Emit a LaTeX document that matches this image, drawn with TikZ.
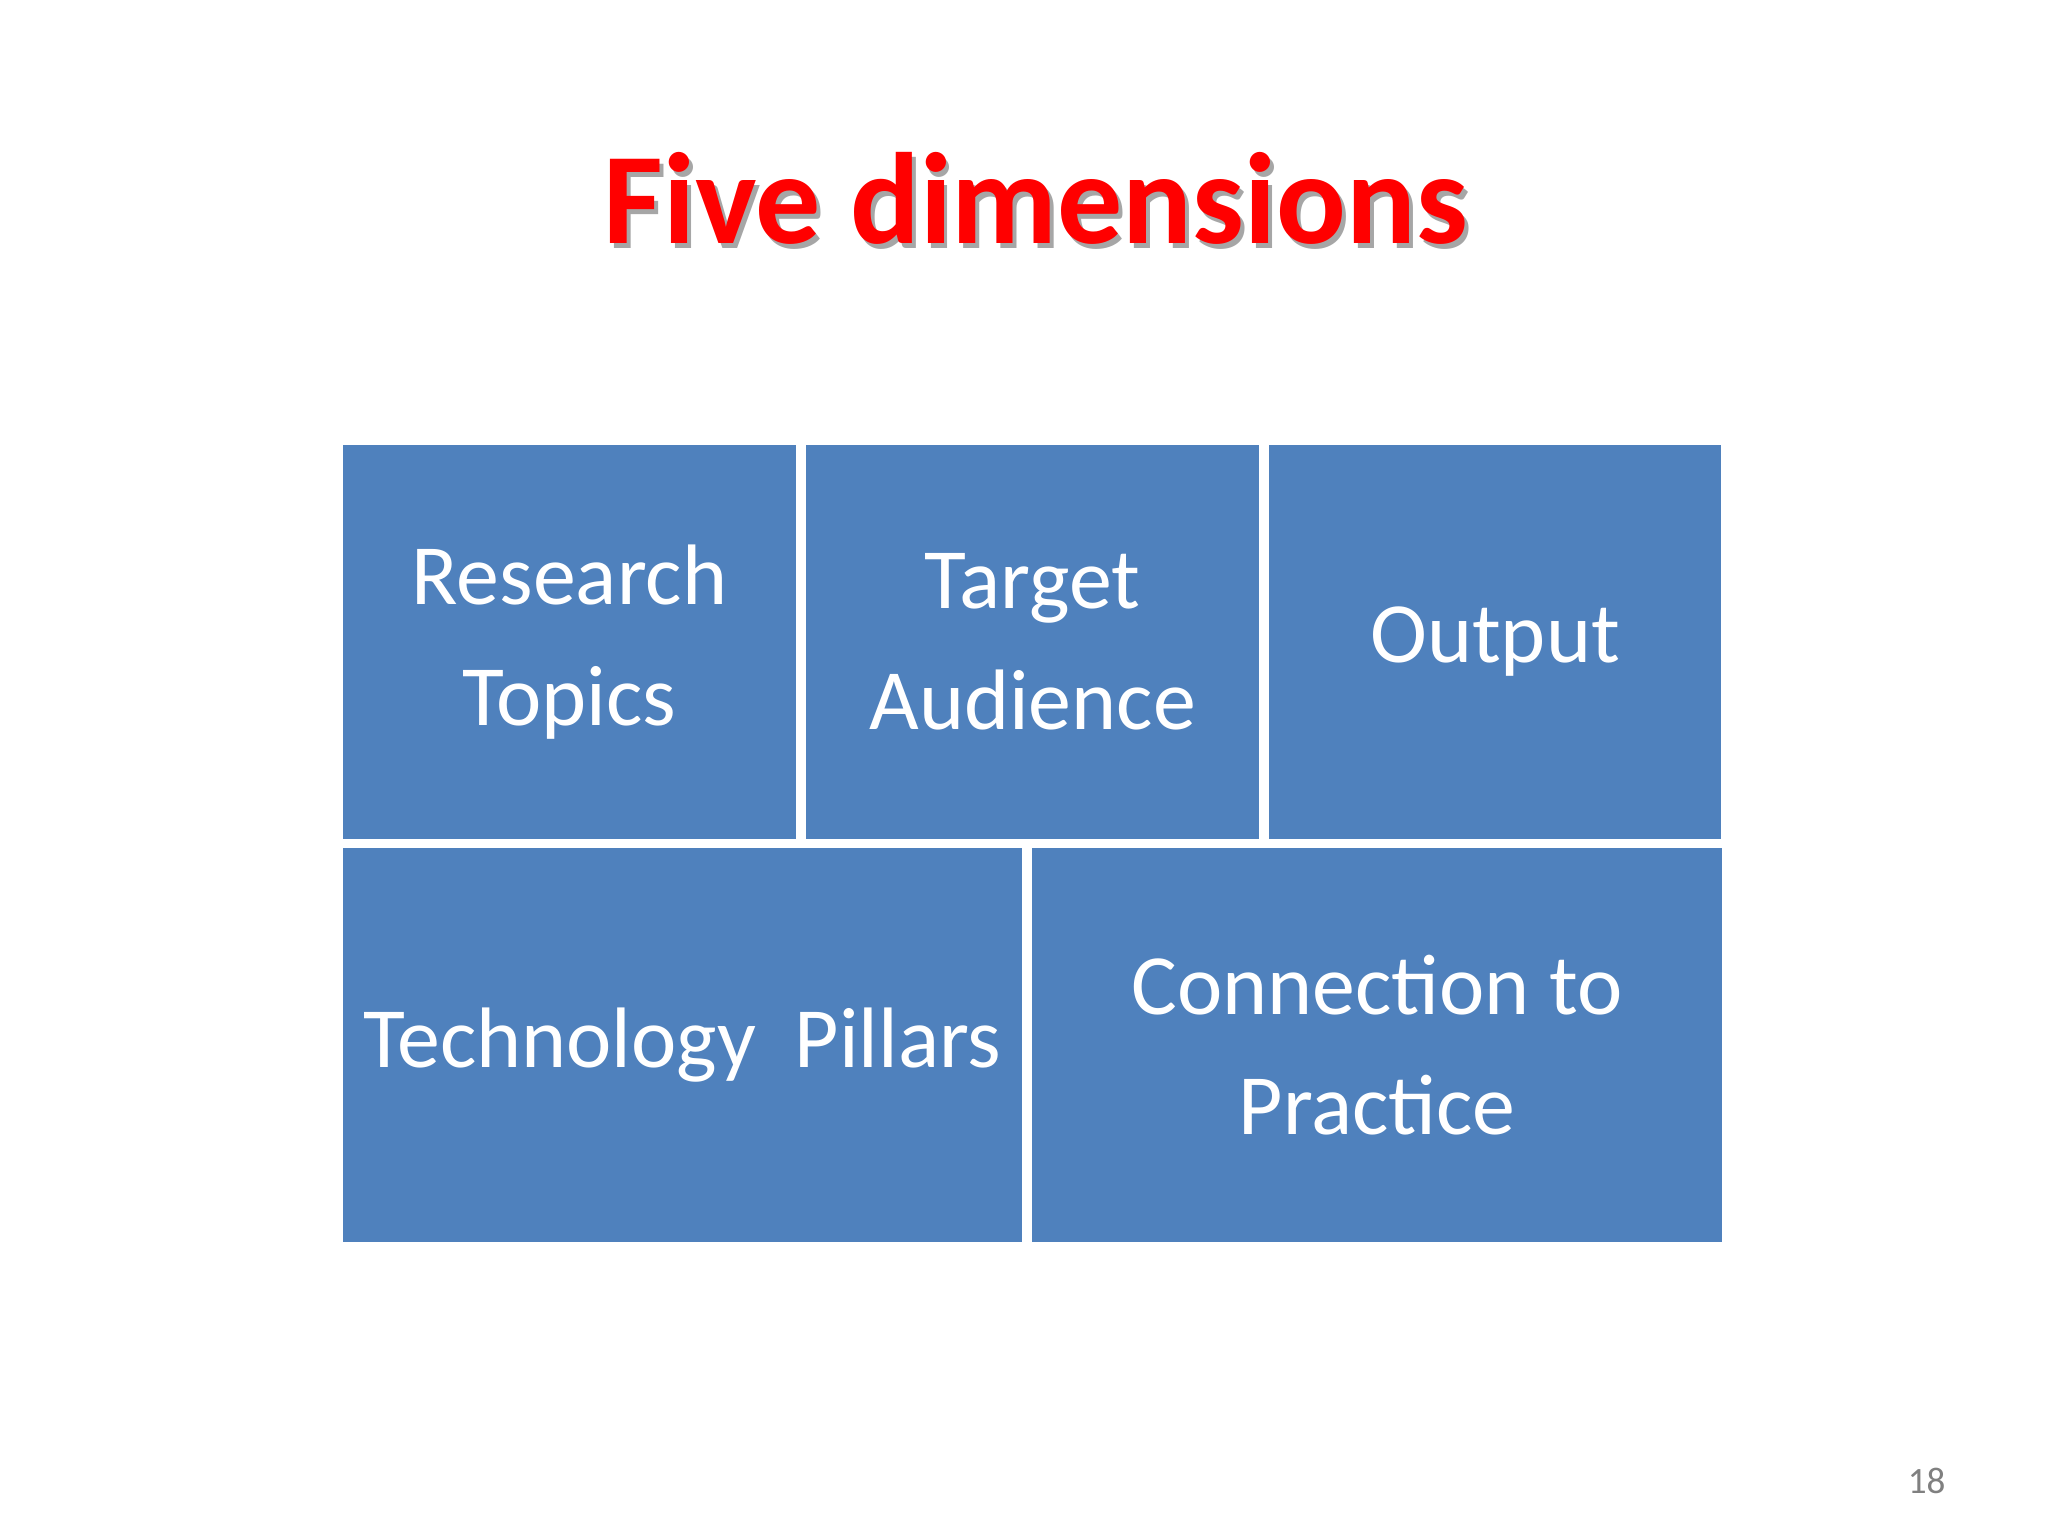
\documentclass[tikz,border=0pt]{standalone}
\usepackage{fontspec}
\setmainfont{Carlito}
\definecolor{boxblue}{HTML}{4F81BD}
\begin{document}
\begin{tikzpicture}[x=0.01cm,y=-0.01cm,
  dim/.style={fill=boxblue,draw=none,text=white,font=\fontsize{18.5}{22}\selectfont,align=center,inner sep=0pt}]
\useasboundingbox (0,0) rectangle (1552,1164);
\fill[white] (0,0) rectangle (1552,1164);
\node[text=black!35,font=\bfseries\fontsize{28}{32}\selectfont] at (788,154) {Five dimensions};
\node (title) [text=red,font=\bfseries\fontsize{28}{32}\selectfont] at (785,150) {Five dimensions};
\node (rt) [dim,minimum width=343\pgflinewidth*0+9.723cm*0+3.43cm,minimum height=2.99cm] at (431.5,486.5) {Research\\[4pt]Topics};
\node (ta) [dim,minimum width=3.43cm,minimum height=2.99cm] at (782.5,486.5) {Target\\[4pt]Audience};
\node (op) [dim,minimum width=3.42cm,minimum height=2.99cm] at (1133,486.5) {Output};
\node (tp) [dim,minimum width=5.14cm,minimum height=2.98cm] at (517,792) {Technology\ \ Pillars};
\node (cp) [dim,minimum width=5.23cm,minimum height=2.98cm] at (1043.5,792) {Connection to\\[4pt]Practice};
\node (pg) [text=black!50,font=\fontsize{8}{10}\selectfont] at (1460,1122) {18};
\end{tikzpicture}
\end{document}
